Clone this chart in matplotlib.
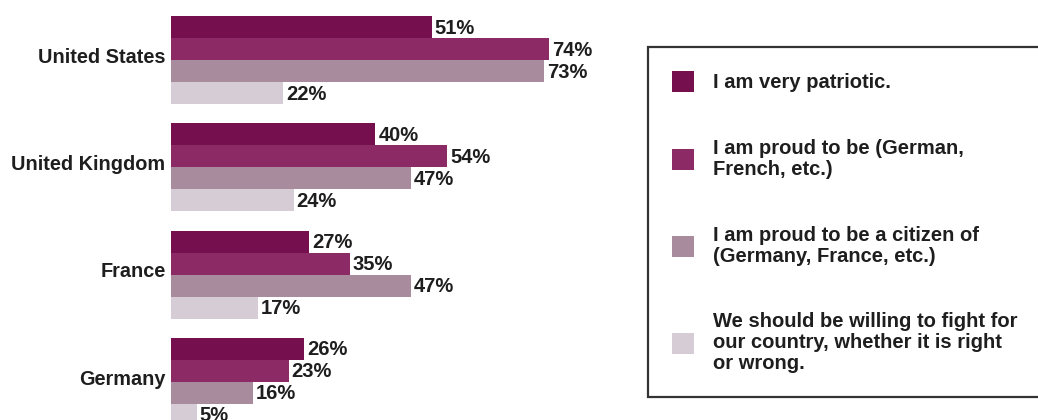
import matplotlib
matplotlib.use("Agg")
import matplotlib.pyplot as plt
import numpy as np
from matplotlib.patches import Patch

countries = ["United States", "United Kingdom", "France", "Germany"]
series_labels = [
    "I am very patriotic.",
    "I am proud to be (German,\nFrench, etc.)",
    "I am proud to be a citizen of\n(Germany, France, etc.)",
    "We should be willing to fight for\nour country, whether it is right\nor wrong.",
]
very_patriotic = [51, 40, 27, 26]
proud_to_be = [74, 54, 35, 23]
proud_citizen = [73, 47, 47, 16]
willing_fight = [22, 24, 17, 5]
series = [very_patriotic, proud_to_be, proud_citizen, willing_fight]
colors = ["#760f4e", "#8c2a66", "#a88c9e", "#d6ccd6"]

plt.rcParams['font.family'] = ['Liberation Sans', 'DejaVu Sans']
plt.rcParams['font.weight'] = 'bold'

W, H = 1038, 420
fig = plt.figure(figsize=(W/100, H/100), dpi=100)
fig.patch.set_facecolor("white")

left_px = 171
ax = fig.add_axes([left_px/W, 0, 511/W, 1])
ax.set_xlim(0, 100)

pitch = 107.3
bh = 22 / pitch
top_center = 60
ax.set_ylim((H - top_center)/pitch, -top_center/pitch)

group_pos = np.arange(len(countries))
for j, (vals, col) in enumerate(zip(series, colors)):
    ypos = group_pos + (j - 1.5) * bh
    ax.barh(ypos, vals, height=bh, color=col, edgecolor='none')
    for y, v in zip(ypos, vals):
        ax.text(v + 0.6, y + 0.01, f"{v}%", va='center', ha='left',
                fontsize=14.5, fontweight='bold', color='#1e1e1e')

ax.set_yticks(group_pos - 0.045)
ax.set_yticklabels(countries, fontsize=14.3, fontweight='bold', color='#1e1e1e')
ax.tick_params(axis='y', length=0, pad=4)
ax.set_xticks([])
for s in ax.spines.values():
    s.set_visible(False)
ax.patch.set_alpha(0)

handles = [Patch(facecolor=c, edgecolor='none') for c in colors]
leg = fig.legend(handles, series_labels, loc='upper left', mode='expand',
                 bbox_to_anchor=(648/W, 1 - 47/H - 0.01, 400/W, 0.01),
                 bbox_transform=fig.transFigure,
                 fontsize=14.5, frameon=True, fancybox=False, edgecolor='black',
                 handlelength=1.1, handleheight=1.2, handletextpad=0.95,
                 labelspacing=2.32, borderpad=1.2, borderaxespad=0)
leg.get_frame().set_linewidth(1.6)
for t in leg.get_texts():
    t.set_linespacing(1.13)
    t.set_fontweight('bold')
    t.set_color('#1e1e1e')

fig.savefig("out.png", dpi=100, facecolor="white")
